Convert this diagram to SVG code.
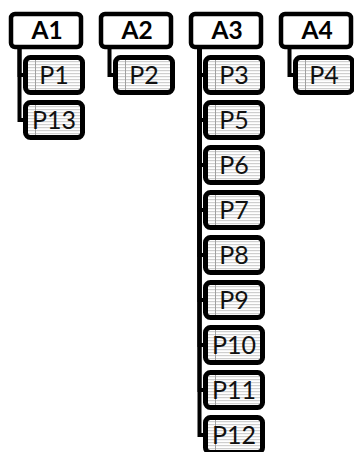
<svg xmlns="http://www.w3.org/2000/svg" width="354" height="452" viewBox="0 0 354 452">
  <defs>
    <pattern id="stripes" patternUnits="userSpaceOnUse" width="4" height="3">
      <rect width="4" height="3" fill="#ffffff"/>
      <rect y="1" width="4" height="1.2" fill="#cfcfcf"/>
    </pattern>
  </defs>
  <style>
    .a rect { fill: #ffffff; stroke: #000000; stroke-width: 4.5; }
    .a text { font-family: Lato, "Open Sans", sans-serif; font-weight: bold; font-size: 24.5px; fill: #000; text-anchor: middle; }
    .p rect { fill: url(#stripes); stroke: #000000; stroke-width: 5; }
    .p line { stroke: #a0a0a0; stroke-width: 1; }
    .p text { font-family: Lato, "Open Sans", sans-serif; font-size: 25px; fill: #111; text-anchor: middle; }
    #connectors path { fill: none; stroke: #000000; stroke-width: 4; }
  </style>

  <!-- connectors: parent bottom, straight down, then right into child -->
  <g id="connectors">
    <path d="M19.5 47 V75 H27"/>
    <path d="M19.5 47 V120 H27"/>
    <path d="M109.5 47 V75 H117"/>
    <path d="M199.5 47 V75 H207"/>
    <path d="M199.5 47 V120 H207"/>
    <path d="M199.5 47 V165 H207"/>
    <path d="M199.5 47 V210 H207"/>
    <path d="M199.5 47 V255 H207"/>
    <path d="M199.5 47 V300 H207"/>
    <path d="M199.5 47 V345 H207"/>
    <path d="M199.5 47 V390 H207"/>
    <path d="M199.5 47 V435 H207"/>
    <path d="M289.5 47 V75 H297"/>
  </g>

  <!-- parents -->
  <g id="A1" class="a"><rect x="11" y="14" width="70" height="33" rx="4"/><text x="47" y="39">A1</text></g>
  <g id="A2" class="a"><rect x="101" y="14" width="70" height="33" rx="4"/><text x="137" y="39">A2</text></g>
  <g id="A3" class="a"><rect x="191" y="14" width="70" height="33" rx="4"/><text x="227" y="39">A3</text></g>
  <g id="A4" class="a"><rect x="281" y="14" width="70" height="33" rx="4"/><text x="317" y="39">A4</text></g>

  <!-- children -->
  <g id="P1" class="p"><rect x="25.5" y="57.5" width="57" height="35" rx="5"/><line x1="35.5" y1="60" x2="35.5" y2="90"/><text x="54" y="84">P1</text></g>
  <g id="P13" class="p"><rect x="25.5" y="102.5" width="57" height="35" rx="5"/><line x1="35.5" y1="105" x2="35.5" y2="135"/><text x="54" y="129">P13</text></g>
  <g id="P2" class="p"><rect x="115.5" y="57.5" width="57" height="35" rx="5"/><line x1="125.5" y1="60" x2="125.5" y2="90"/><text x="144" y="84">P2</text></g>
  <g id="P3" class="p"><rect x="205.5" y="57.5" width="57" height="35" rx="5"/><line x1="215.5" y1="60" x2="215.5" y2="90"/><text x="234" y="84">P3</text></g>
  <g id="P5" class="p"><rect x="205.5" y="102.5" width="57" height="35" rx="5"/><line x1="215.5" y1="105" x2="215.5" y2="135"/><text x="234" y="129">P5</text></g>
  <g id="P6" class="p"><rect x="205.5" y="147.5" width="57" height="35" rx="5"/><line x1="215.5" y1="150" x2="215.5" y2="180"/><text x="234" y="174">P6</text></g>
  <g id="P7" class="p"><rect x="205.5" y="192.5" width="57" height="35" rx="5"/><line x1="215.5" y1="195" x2="215.5" y2="225"/><text x="234" y="219">P7</text></g>
  <g id="P8" class="p"><rect x="205.5" y="237.5" width="57" height="35" rx="5"/><line x1="215.5" y1="240" x2="215.5" y2="270"/><text x="234" y="264">P8</text></g>
  <g id="P9" class="p"><rect x="205.5" y="282.5" width="57" height="35" rx="5"/><line x1="215.5" y1="285" x2="215.5" y2="315"/><text x="234" y="309">P9</text></g>
  <g id="P10" class="p"><rect x="205.5" y="327.5" width="57" height="35" rx="5"/><line x1="215.5" y1="330" x2="215.5" y2="360"/><text x="234" y="354">P10</text></g>
  <g id="P11" class="p"><rect x="205.5" y="372.5" width="57" height="35" rx="5"/><line x1="215.5" y1="375" x2="215.5" y2="405"/><text x="234" y="399">P11</text></g>
  <g id="P12" class="p"><rect x="205.5" y="417.5" width="57" height="35" rx="5"/><line x1="215.5" y1="420" x2="215.5" y2="450"/><text x="234" y="444">P12</text></g>
  <g id="P4" class="p"><rect x="295.5" y="57.5" width="57" height="35" rx="5"/><line x1="305.5" y1="60" x2="305.5" y2="90"/><text x="324" y="84">P4</text></g>
</svg>
